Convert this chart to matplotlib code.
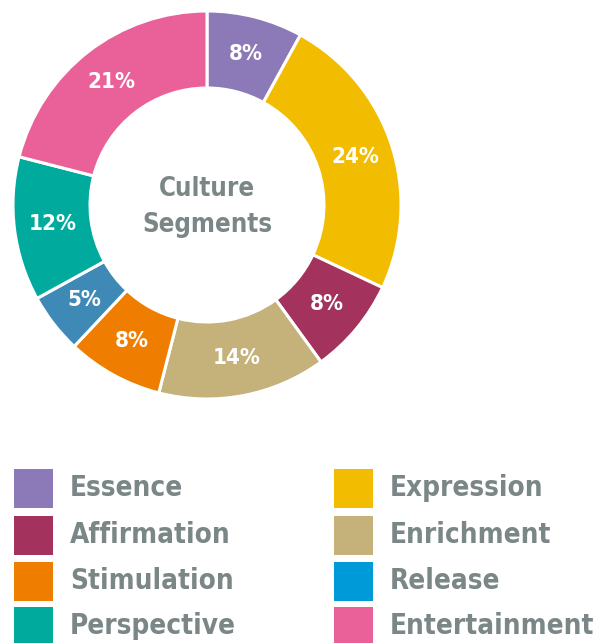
import matplotlib
matplotlib.use("Agg")
import matplotlib.pyplot as plt
from matplotlib.patches import Rectangle

categories = ["Essence", "Expression", "Affirmation", "Enrichment",
              "Stimulation", "Release", "Perspective", "Entertainment"]
values = [8, 24, 8, 14, 8, 5, 12, 21]
pie_colors = ["#8B7AB7", "#F2BC00", "#A3335C", "#C4B27A",
              "#EF7D00", "#3E89B6", "#00AB9E", "#EA6098"]
legend_colors = ["#8B7AB7", "#F2BC00", "#A3335C", "#C4B27A",
                 "#EF7D00", "#009AD8", "#00AB9E", "#EA6098"]
center_title = "Culture\nSegments"

FONT = ["DejaVu Sans"]
GRAY = "#7A8786"

W, H = 596, 643
fig = plt.figure(figsize=(W / 100, H / 100), dpi=100)
ax = fig.add_axes([0, 0, 1, 1])

cx, cy, R, r_in = 207, H - 205, 194, 117
wedges, texts, autotexts = ax.pie(
    values, colors=pie_colors, startangle=90, counterclock=False,
    center=(cx, cy), radius=R,
    autopct=lambda p: f"{p:.0f}%", pctdistance=(R + r_in) / 2 / R,
    wedgeprops=dict(width=R - r_in, edgecolor="white", linewidth=2.2),
    textprops=dict(color="white", fontsize=16, fontweight="bold",
                   family=FONT, fontstretch="condensed"),
)
ax.text(cx, cy - 2, center_title, ha="center", va="center", fontsize=18.5,
        fontweight="bold", color=GRAY, family=FONT, fontstretch="condensed",
        linespacing=1.55)

# legend
col_x = [14, 334]
row_y = [488.5, 535, 581, 626]
sq = 39
for i, (cat, col) in enumerate(zip(categories, legend_colors)):
    c = i % 2
    rr = i // 2
    x0 = col_x[c]
    yc = H - row_y[rr]
    ax.add_patch(Rectangle((x0, yc - sq / 2), sq, sq, color=col, lw=0))
    ax.text(x0 + sq + 17, yc, cat, ha="left", va="center", fontsize=20,
            fontweight="bold", color=GRAY, family=FONT, fontstretch="condensed")

ax.set_xlim(0, W)
ax.set_ylim(0, H)
ax.set_aspect("equal")
ax.axis("off")
fig.savefig("out.png", dpi=100)
